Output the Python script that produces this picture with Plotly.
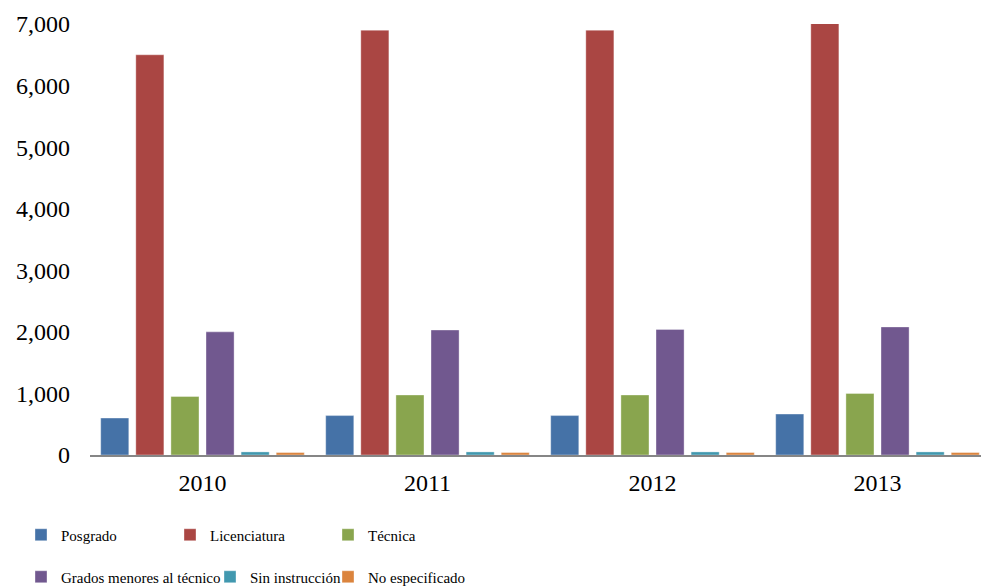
import plotly.graph_objects as go

years = ["2010", "2011", "2012", "2013"]
series_names = ["Posgrado", "Licenciatura", "Técnica",
                "Grados menores al técnico", "Sin instrucción", "No especificado"]
posgrado = [600, 640, 640, 665]
licenciatura = [6500, 6900, 6900, 7030]
tecnica = [950, 975, 975, 1000]
grados_menores = [2000, 2030, 2040, 2080]
sin_instruccion = [50, 50, 50, 50]
no_especificado = [40, 40, 40, 40]
colors = ["#4572A7", "#AA4643", "#89A54E", "#71588F", "#4198AF", "#DB843D"]
y_ticks = [0, 1000, 2000, 3000, 4000, 5000, 6000, 7000]
y_tick_labels = ["0", "1,000", "2,000", "3,000", "4,000", "5,000", "6,000", "7,000"]

values = [posgrado, licenciatura, tecnica, grados_menores, sin_instruccion, no_especificado]
font_family = "Liberation Serif, Times New Roman, serif"

# legend item positions (left px, center y px) in the container
legend_pos = [(21, 535), (170, 535), (328, 535), (21, 577), (210, 577), (328, 577)]
legend_ids = ["legend", "legend2", "legend3", "legend4", "legend5", "legend6"]

fig = go.Figure()
for i, (name, vals, col) in enumerate(zip(series_names, values, colors)):
    fig.add_trace(go.Bar(
        x=years, y=vals, name=name, cliponaxis=False,
        marker=dict(color=col, line=dict(color="rgba(255,255,255,0.6)", width=0.6)),
        legend=legend_ids[i],
    ))

legends = {}
for lid, (lx, ly) in zip(legend_ids, legend_pos):
    legends[lid] = dict(
        orientation="h", xref="container", yref="container",
        x=lx / 981, y=1 - ly / 587, xanchor="left", yanchor="middle",
        font=dict(family=font_family, size=15, color="#000000"),
        itemwidth=30, bgcolor="rgba(0,0,0,0)",
    )

fig.update_layout(
    width=981, height=587,
    margin=dict(l=90, r=0, t=24, b=132),
    paper_bgcolor="white", plot_bgcolor="white",
    barmode="group", bargap=0.064, bargroupgap=0.2,
    font=dict(family=font_family, size=20, color="#000000"),
    showlegend=True,
    xaxis=dict(
        range=[-0.5, 3.46], showline=True, linecolor="#868686", linewidth=1.5,
        ticks="", showgrid=False, zeroline=False,
        tickfont=dict(family=font_family, size=24, color="#000000"),
        ticklabelstandoff=5,
    ),
    yaxis=dict(
        range=[0, 7000], tickvals=y_ticks, ticktext=y_tick_labels,
        showline=False, showgrid=False, zeroline=False, ticks="",
        tickfont=dict(family=font_family, size=24, color="#000000"),
        ticklabelstandoff=19,
    ),
    **legends,
)

fig.write_html("out.html", config={"displayModeBar": False},
               post_script="document.body.style.margin='0';document.body.style.overflow='hidden';")
